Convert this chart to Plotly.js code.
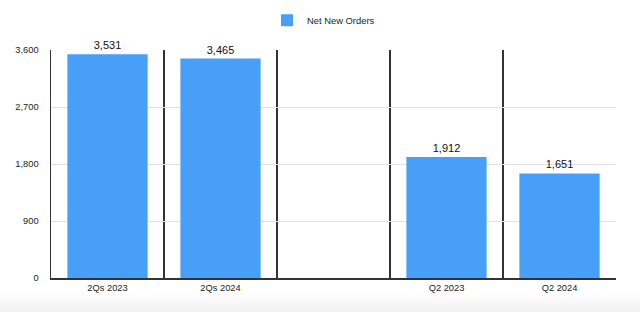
<!DOCTYPE html>
<html>
<head>
<meta charset="utf-8">
<script src="https://cdn.plot.ly/plotly-3.0.1.min.js"></script>
<style>html,body{margin:0;padding:0;background:#fff}#chart{width:640px;height:312px}</style>
</head>
<body>
<div id="chart"></div>
<script>
const categories = ["2Qs 2023", "2Qs 2024", " ", "Q2 2023", "Q2 2024"];
const netNewOrders = [3531, 3465, null, 1912, 1651];
const yTicks = [0, 900, 1800, 2700, 3600];
const seriesName = "Net New Orders";

const font = "Liberation Sans, Arial, Helvetica, sans-serif";

const trace = {
  type: "bar",
  x: categories,
  y: netNewOrders,
  name: seriesName,
  marker: {color: "#489ff7"},
  text: netNewOrders.map(v => v == null ? "" : v.toLocaleString("en-US")),
  textposition: "outside",
  cliponaxis: false,
  textfont: {family: font, size: 11, color: "#111"},
  hoverinfo: "skip"
};

const shade = [];
for (let i = 0; i < 7; i++) {
  shade.push({type: "rect", xref: "paper", yref: "paper", layer: "below",
    x0: -0.2, x1: 1.2, y0: -0.3, y1: -0.07 - i * 0.011,
    fillcolor: "rgba(0,0,0,0.007)", line: {width: 0}});
}

const layout = {
  width: 640, height: 312,
  margin: {l: 51, r: 24, t: 49.5, b: 34},
  paper_bgcolor: "#fff", plot_bgcolor: "#fff",
  font: {family: font, size: 9.3, color: "#222"},
  bargap: 0.29,
  showlegend: true,
  legend: {orientation: "h", x: 267 / 640, xref: "container", xanchor: "left",
    y: 0.935, yref: "container", yanchor: "middle",
    font: {family: font, size: 9.4, color: "#222"}},
  xaxis: {
    type: "category",
    tickson: "boundaries",
    showgrid: true, gridcolor: "#333", gridwidth: 1.3,
    showline: true, linecolor: "#333", linewidth: 1.5,
    ticks: "", ticklen: 0,
    tickfont: {family: font, size: 9.3, color: "#222"},
    fixedrange: true
  },
  yaxis: {
    range: [0, 3600],
    tickvals: yTicks,
    ticktext: yTicks.map(v => v.toLocaleString("en-US")),
    showgrid: true, gridcolor: "#e2e2e2", gridwidth: 1,
    showline: true, linecolor: "#333", linewidth: 1.5,
    zeroline: false,
    ticks: "", ticklabelstandoff: 9,
    tickfont: {family: font, size: 9.3, color: "#222"},
    fixedrange: true
  },
  shapes: shade
};

Plotly.newPlot("chart", [trace], layout, {displayModeBar: false, staticPlot: true});
</script>
</body>
</html>
